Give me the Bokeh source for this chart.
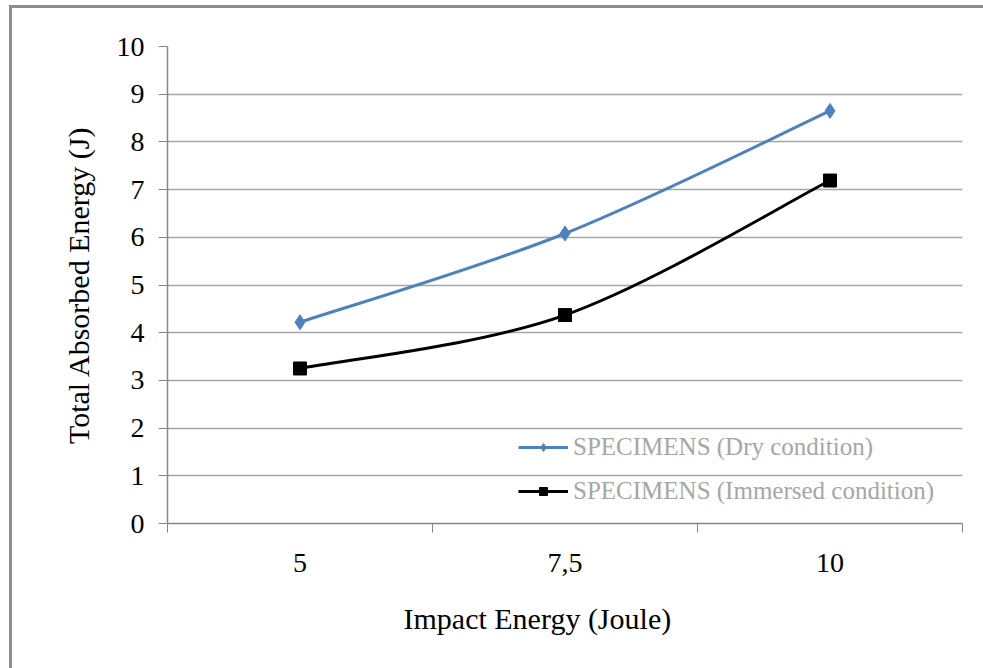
from bokeh.plotting import figure
from bokeh.models import FixedTicker, Range1d, Legend, LegendItem, Title
from bokeh.embed import file_html
from bokeh.resources import INLINE

# Impact energy categories and absorbed energy per specimen condition
categories = ["5", "7,5", "10"]
dry_values = [4.22, 6.08, 8.65]
immersed_values = [3.25, 4.37, 7.19]
y_ticks = [0, 1, 2, 3, 4, 5, 6, 7, 8, 9, 10]

xs = [i + 0.5 for i in range(len(categories))]

SERIF = "Liberation Serif"

p = figure(width=971, height=660, output_backend="svg", toolbar_location=None,
           x_range=Range1d(0, len(categories)), y_range=Range1d(0, 10),
           min_border_left=155, min_border_right=24, min_border_top=38,
           min_border_bottom=148)
p.styles = {"margin-left": "9px", "margin-top": "5px", "box-sizing": "content-box",
            "border-left": "3px solid #8c8c8c", "border-top": "3px solid #8c8c8c"}
p.outline_line_color = None
p.background_fill_color = "white"
p.border_fill_color = "white"

# Axes
p.xaxis.ticker = FixedTicker(ticks=xs, minor_ticks=list(range(len(categories) + 1)))
p.xaxis.major_label_overrides = {x: c for x, c in zip(xs, categories)}
p.xaxis.major_tick_line_color = None
p.xaxis.minor_tick_line_color = "#868686"
p.xaxis.minor_tick_out = 9
p.xaxis.minor_tick_in = 0
p.xaxis.axis_line_color = "#868686"
p.xaxis.axis_line_width = 1.5
p.xaxis.major_label_standoff = 21

p.yaxis.ticker = FixedTicker(ticks=y_ticks)
p.yaxis.minor_tick_line_color = None
p.yaxis.major_tick_line_color = "#868686"
p.yaxis.major_tick_out = 9
p.yaxis.major_tick_in = 0
p.yaxis.axis_line_color = "#868686"
p.yaxis.axis_line_width = 1.5
p.yaxis.major_label_standoff = 14
p.yaxis.axis_label = "Total Absorbed Energy (J)"
p.yaxis.axis_label_text_font_size = "30px"
p.yaxis.axis_label_standoff = 19

for ax in (p.xaxis, p.yaxis):
    ax.major_label_text_font = SERIF
    ax.major_label_text_font_size = "28px"
    ax.major_label_text_color = "black"
    ax.axis_label_text_font = SERIF
    ax.axis_label_text_font_style = "normal"
    ax.axis_label_text_color = "black"

# x-axis title, placed a little left of the plot centre
p.add_layout(Title(text="Impact Energy (Joule)", align="left", offset=236,
                   standoff=51, text_font=SERIF, text_font_size="30px",
                   text_font_style="normal", text_color="black"), "below")

p.xgrid.grid_line_color = None
p.ygrid.grid_line_color = "#a6a6a6"
p.ygrid.grid_line_width = 1.5


def smooth_segments(x, y):
    """Cubic Bezier control points for a smoothed line through the points."""
    n = len(x)
    segs = {"x0": [], "y0": [], "x1": [], "y1": [], "cx0": [], "cy0": [], "cx1": [], "cy1": []}
    for i in range(n - 1):
        xp, yp = (x[i - 1], y[i - 1]) if i > 0 else (x[i], y[i])
        xn, yn = (x[i + 2], y[i + 2]) if i + 2 < n else (x[i + 1], y[i + 1])
        segs["x0"].append(x[i]); segs["y0"].append(y[i])
        segs["x1"].append(x[i + 1]); segs["y1"].append(y[i + 1])
        segs["cx0"].append(x[i] + (x[i + 1] - xp) / 6)
        segs["cy0"].append(y[i] + (y[i + 1] - yp) / 6)
        segs["cx1"].append(x[i + 1] - (xn - x[i]) / 6)
        segs["cy1"].append(y[i + 1] - (yn - y[i]) / 6)
    return segs


BLUE = "#4f81bd"
NAN = float("nan")
items = []
for vals, color, marker, size, label in [
    (dry_values, BLUE, "diamond", 15, "SPECIMENS (Dry condition)"),
    (immersed_values, "black", "square", 13, "SPECIMENS (Immersed condition)"),
]:
    segs = smooth_segments(xs, vals)
    p.bezier(line_color=color, line_width=3, **segs)
    pts = p.scatter(xs, vals, marker=marker, size=size, fill_color=color, line_color=color)
    # a line renderer with no drawable point, used only for the legend swatch
    swatch = p.line([NAN], [NAN], line_color=color, line_width=3)
    items.append(LegendItem(label=label, renderers=[swatch, pts]))

legend = Legend(items=items, location=(351, 18), background_fill_alpha=0,
                border_line_color=None, padding=0, margin=0, spacing=16,
                glyph_width=50, glyph_height=20, label_height=24,
                label_standoff=5, label_text_font=SERIF,
                label_text_font_size="25px", label_text_color="#a6a6a6")
p.add_layout(legend, "center")

open("out.html", "w").write(file_html(p, INLINE))
